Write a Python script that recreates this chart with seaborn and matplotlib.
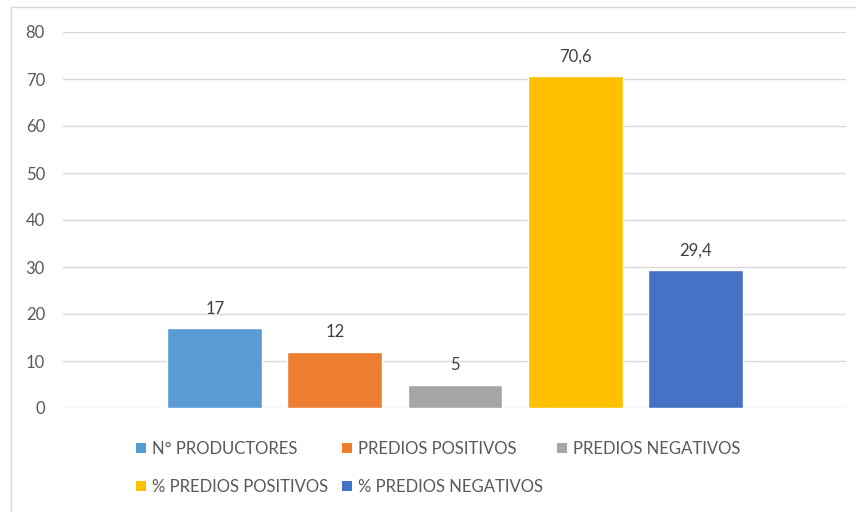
import matplotlib.pyplot as plt
import pandas as pd
import seaborn as sns
from matplotlib.patches import Patch, Rectangle

# data
series = [
    "N° PRODUCTORES",
    "PREDIOS POSITIVOS",
    "PREDIOS NEGATIVOS",
    "% PREDIOS POSITIVOS",
    "% PREDIOS NEGATIVOS",
]
values = [17, 12, 5, 70.6, 29.4]
value_labels = ["17", "12", "5", "70,6", "29,4"]
colors = ["#5B9BD5", "#ED7D31", "#A5A5A5", "#FFC000", "#4472C4"]

sns.set_style("white")
plt.rcParams["font.family"] = ["Lato", "DejaVu Sans"]

df = pd.DataFrame({"serie": series, "valor": values})

fig = plt.figure(figsize=(8.56, 5.12), dpi=100)
ax = fig.add_axes([63 / 856, 1 - 408 / 512, (846 - 63) / 856, (408 - 32) / 512])

sns.barplot(
    data=df,
    x="serie",
    y="valor",
    hue="serie",
    palette=dict(zip(series, colors)),
    width=0.79,
    saturation=1,
    legend=False,
    ax=ax,
)

for cont, lab in zip(ax.containers, value_labels):
    ax.bar_label(cont, labels=[lab], padding=8, fontsize=12, color="#404040")

ax.set_ylim(0, 80)
ax.set_yticks(range(0, 81, 10))
ax.set_xlim(-1.263, 5.254)
ax.set_xticks([])
ax.set_xlabel("")
ax.set_ylabel("")
ax.yaxis.grid(True, color="#D9D9D9", linewidth=1)
ax.set_axisbelow(True)
for s in ax.spines.values():
    s.set_visible(False)
ax.tick_params(axis="y", length=0, pad=13, labelsize=12, labelcolor="#595959")

# chart border (only left/top visible in the crop)
fig.patches.append(
    Rectangle((11 / 856, -0.1), 1.2, 1 - 7 / 512 + 0.1, transform=fig.transFigure,
              fill=False, edgecolor="#D9D9D9", linewidth=1)
)

handles = [Patch(facecolor=c, edgecolor="none") for c in colors]
order = [0, 3, 1, 4, 2]
fig.legend(
    [handles[i] for i in order],
    [series[i] for i in order],
    ncol=3,
    loc="upper left",
    bbox_to_anchor=(136 / 856, 1 - 441 / 512),
    frameon=False,
    fontsize=12,
    labelcolor="#595959",
    handlelength=0.6,
    handleheight=0.6,
    handletextpad=0.36,
    columnspacing=0.85,
    labelspacing=1.3,
    borderpad=0,
    borderaxespad=0,
)

plt.savefig("out.png", dpi=100)
